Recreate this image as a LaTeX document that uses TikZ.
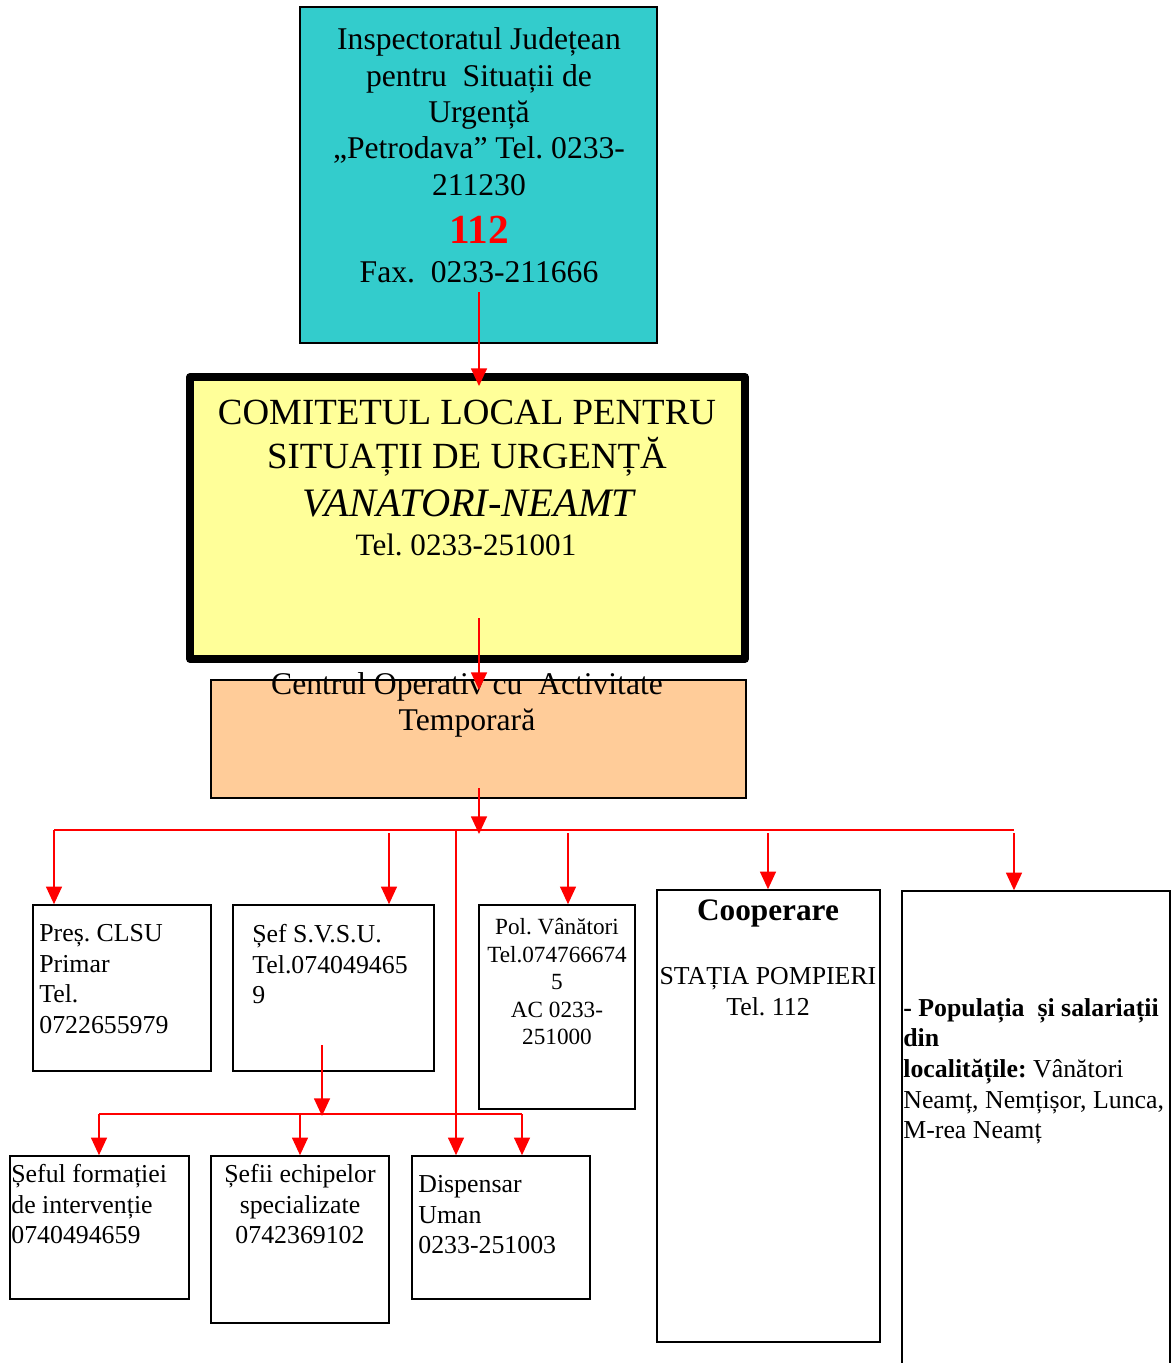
\documentclass[tikz,border=0pt]{standalone}
\usepackage{fontspec}
\setmainfont{Liberation Serif}
\usetikzlibrary{arrows.meta}
\frenchspacing

\definecolor{isucyan}{RGB}{51,204,204}
\definecolor{clsuyellow}{RGB}{255,255,153}
\definecolor{coatorange}{RGB}{255,204,153}

\tikzset{
    box/.style={rectangle, draw=black, line width=0.9pt, inner sep=0pt},
    txt/.style={inner sep=0pt, font=\fontsize{14.7}{17.4}\selectfont},
    poltxt/.style={inner sep=0pt, font=\fontsize{13.2}{15.7}\selectfont},
    bigtxt/.style={inner sep=0pt, font=\fontsize{18}{20.7}\selectfont}
}

\begin{document}
\begin{tikzpicture}[x=0.02cm, y=-0.02cm]
\useasboundingbox (0,0) rectangle (1173,1363);

% the boxes
\begin{scope}[every node/.style={box}]
    \node (isu) at (478.5, 175) [fill=isucyan, minimum width=7.14cm, minimum height=6.72cm] {};
    \node (clsu) at (467.5, 518) [fill=clsuyellow, line width=4.5pt, line join=round,
        minimum width=11.1cm, minimum height=5.64cm] {};
    \node (coat) at (478.5, 739) [fill=coatorange, minimum width=10.7cm, minimum height=2.36cm] {};

    \node (pres) at (122, 988) [minimum width=3.56cm, minimum height=3.32cm] {};
    \node (svsu) at (333.5, 988) [minimum width=4.02cm, minimum height=3.32cm] {};
    \node (pol) at (557, 1007) [minimum width=3.12cm, minimum height=4.08cm] {};
    \node (coop) at (768.5, 1116) [minimum width=4.46cm, minimum height=9.04cm] {};
    \node (popul) at (1036, 1145.5) [minimum width=5.36cm, minimum height=10.18cm] {};

    \node (sform) at (99.5, 1227.5) [minimum width=3.58cm, minimum height=2.86cm] {};
    \node (sech) at (300, 1239.5) [minimum width=3.56cm, minimum height=3.34cm] {};
    \node (disp) at (501, 1227.5) [minimum width=3.56cm, minimum height=2.86cm] {};
\end{scope}

% the texts
\node (isu-text) at (479, 27.5) [bigtxt, anchor=north, align=center]
    {Inspectoratul Județean\\pentru\ \ Situații de\\Urgență\\„Petrodava” Tel.\ 0233-\\211230};
\node (isu-nr) at (479, 243) [inner sep=0pt, anchor=base, text=red,
    font=\fontsize{23.5}{27}\selectfont\bfseries] {112};
\node (isu-fax) at (479, 282) [bigtxt, anchor=base] {Fax.\ \ 0233-211666};

\node (clsu-title) at (467, 399.5) [inner sep=0pt, anchor=north, align=center,
    font=\fontsize{21}{24.9}\selectfont] {COMITETUL LOCAL PENTRU\\SITUAȚII DE URGENȚĂ};
\node (clsu-name) at (468.5, 516) [inner sep=0pt, anchor=base,
    font=\fontsize{23}{27}\selectfont\itshape] {VANATORI-NEAMT};
\node (clsu-tel) at (466, 555) [inner sep=0pt, anchor=base,
    font=\fontsize{17.7}{20}\selectfont] {Tel. 0233-251001};

\node (coat-text) at (467, 672) [inner sep=0pt, anchor=north, align=center,
    font=\fontsize{18}{20.4}\selectfont] {Centrul Operativ cu\ \ Activitate\\Temporară};

\node (pres-text) at (39, 924) [txt, anchor=north west, align=left]
    {Preș. CLSU\\Primar\\Tel.\\0722655979};
\node (svsu-text) at (252, 924) [txt, anchor=north west, align=left]
    {Șef S.V.S.U.\\Tel.074049465\\9};
\node (pol-text) at (557, 918) [poltxt, anchor=north, align=center]
    {Pol. Vânători\\Tel.074766674\\5\\AC 0233-\\251000};
\node (coop-title) at (768, 920) [inner sep=0pt, anchor=base,
    font=\fontsize{17.8}{20}\selectfont\bfseries] {Cooperare};
\node (coop-text) at (768, 967.5) [txt, anchor=north, align=center]
    {STAȚIA POMPIERI\\Tel. 112};
\node (popul-text) at (903, 998) [txt, anchor=north west, align=left]
    {\textbf{-\ Populația\ \ și salariații}\\\textbf{din}\\\textbf{localitățile:} Vânători\\Neamț, Nemțișor, Lunca,\\M-rea Neamț};

\node (sform-text) at (11, 1164) [txt, anchor=north west, align=left]
    {Șeful formației\\de intervenție\\0740494659};
\node (sech-text) at (300, 1164) [txt, anchor=north, align=center]
    {Șefii echipelor\\specializate\\0742369102};
\node (disp-text) at (418, 1175) [txt, anchor=north west, align=left]
    {Dispensar\\Uman\\0233-251003};

% the connectors
\coordinate (isu-out) at (479, 292);
\coordinate (clsu-in) at (479, 386);
\coordinate (clsu-out) at (479, 618);
\coordinate (coat-in) at (479, 690);
\coordinate (coat-out) at (479, 788);
\coordinate (bus-mid) at (479, 834);
\coordinate (bus-l) at (54, 830);
\coordinate (bus-r) at (1014, 830);
\coordinate (to-svsu) at (389, 833);
\coordinate (to-disp) at (456, 830);
\coordinate (to-pol) at (568, 833);
\coordinate (to-coop) at (768, 833);
\coordinate (to-popul) at (1014, 833);
\coordinate (svsu-out) at (322, 1045);
\coordinate (sub-mid) at (322, 1116);
\coordinate (sub-l) at (99, 1114);
\coordinate (sub-r) at (522, 1114);
\coordinate (to-sech) at (300, 1114);

\begin{scope}[red, line width=1pt, >={Triangle[length=10pt, width=9pt]}]
    \draw [->] (isu-out) -- (clsu-in);
    \draw [->] (clsu-out) -- (coat-in);
    \draw [->] (coat-out) -- (bus-mid);
    \draw (bus-l) -- (bus-r);
    \draw [->] (bus-l) -- (bus-l |- pres.north);
    \draw [->] (to-svsu) -- (to-svsu |- svsu.north);
    \draw [->] (to-pol) -- (to-pol |- pol.north);
    \draw [->] (to-coop) -- (to-coop |- coop.north);
    \draw [->] (to-popul) -- (to-popul |- popul.north);
    \draw [->] (to-disp) -- (to-disp |- disp.north);
    \draw [->] (svsu-out) -- (sub-mid);
    \draw (sub-l) -- (sub-r);
    \draw [->] (sub-l) -- (sub-l |- sform.north);
    \draw [->] (to-sech) -- (to-sech |- sech.north);
    \draw [->] (sub-r) -- (sub-r |- disp.north);
\end{scope}
\end{tikzpicture}
\end{document}
